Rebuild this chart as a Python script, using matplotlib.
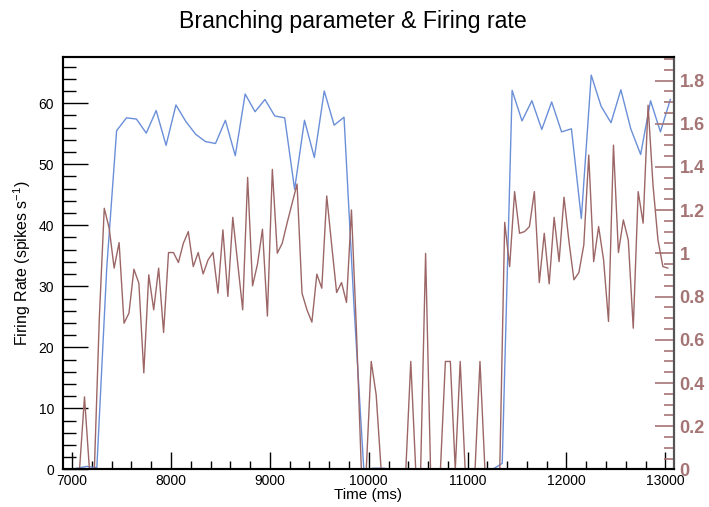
import matplotlib
matplotlib.use("Agg")
import matplotlib.pyplot as plt
from matplotlib.ticker import MultipleLocator, FuncFormatter

plt.rcParams['font.family'] = ['Liberation Sans', 'DejaVu Sans']
plt.rcParams['mathtext.default'] = 'regular'

# firing rate, 100 ms bins
rate_t = list(range(6950, 13051, 100))
rate = [0.0, 0.2, 0.5, 0.3, 33.0, 55.5, 57.6, 57.4, 55.1, 58.8,
        53.1, 59.7, 57.0, 54.9, 53.7, 53.4, 57.2, 51.4, 61.5, 58.6,
        60.6, 57.9, 57.6, 45.9, 57.2, 51.1, 62.0, 56.4, 57.7, 27.0,
        0.0, 0.2, 0.2, 0.0, 0.0, 0.0, 0.0, 0.0, 0.0, 0.0,
        0.0, 0.0, 0.0, 0.0, 1.0, 62.1, 57.1, 60.4, 55.7, 60.2,
        55.3, 55.8, 41.1, 64.6, 59.5, 56.8, 62.2, 55.8, 51.6, 60.4,
        55.3, 60.6]

# branching parameter, 50 ms bins
branch_t = list(range(6975, 13026, 50))
branch = [0.0, 0.0, 0.0, 0.336, 0.0, 0.0, 0.70, 1.209, 1.116, 0.932,
          1.050, 0.677, 0.724, 0.927, 0.862, 0.447, 0.901, 0.739, 0.932, 0.634,
          1.004, 1.004, 0.958, 1.047, 1.101, 0.939, 1.004, 0.905, 0.970, 1.004,
          0.816, 1.109, 0.801, 1.167, 0.953, 0.739, 1.352, 0.850, 0.951, 1.112,
          0.710, 1.389, 1.001, 1.047, 1.142, 1.232, 1.321, 0.816, 0.739, 0.682,
          0.904, 0.839, 1.266, 1.039, 0.819, 0.865, 0.773, 1.201, 0.650, 0.0,
          0.0, 0.5, 0.346, 0.0, 0.0, 0.0, 0.0, 0.0, 0.0, 0.5,
          0.0, 0.0, 1.0, 0.0, 0.0, 0.0, 0.5, 0.5, 0.0, 0.5,
          0.0, 0.0, 0.0, 0.5, 0.0, 0.0, 0.0, 0.0, 1.144, 0.939,
          1.286, 1.093, 1.101, 1.124, 1.286, 0.865, 1.093, 0.859, 1.167, 0.962,
          1.260, 1.055, 0.878, 0.911, 1.039, 1.455, 0.962, 1.124, 0.970, 0.685,
          1.501, 1.004, 1.155, 1.062, 0.654, 1.286, 1.140, 1.686, 1.316, 1.062,
          0.939, 0.932]

blue = '#6a8fd8'
brown = '#9c6666'
axis_brown = '#a57474'

fig = plt.figure(figsize=(7.09, 5.07), dpi=100)
ax = fig.add_axes([0.0882, 0.074, 0.9506 - 0.0882, 0.888 - 0.074])
ax2 = ax.twinx()

ax.plot(rate_t, rate, color=blue, lw=1.0)
ax2.plot(branch_t, branch, color=brown, lw=1.0)

ax.set_xlim(6903, 13087)
ax.set_ylim(0, 67.6)
ax2.set_ylim(0, 1.91)

# left / bottom axes, ticks inside like ROOT
ax.xaxis.set_major_locator(MultipleLocator(1000))
ax.xaxis.set_minor_locator(MultipleLocator(200))
ax.yaxis.set_major_locator(MultipleLocator(10))
ax.yaxis.set_minor_locator(MultipleLocator(2))
ax.tick_params(axis='x', which='major', direction='in', length=12, width=1, labelsize=10, pad=3)
ax.tick_params(axis='x', which='minor', direction='in', length=6, width=1)
ax.tick_params(axis='y', which='major', direction='in', length=18, width=1, labelsize=10, pad=6)
ax.tick_params(axis='y', which='minor', direction='in', length=9, width=1)
ax.tick_params(top=False, right=False, which='both')

for side in ['left', 'top', 'bottom', 'right']:
    ax.spines[side].set_linewidth(1.5)
    ax2.spines[side].set_linewidth(1.5)
ax.spines['top'].set_color('#444444')
ax.spines['left'].set_color('#333333')
ax.spines['bottom'].set_color('#222222')
ax2.spines['right'].set_color('#555555')

# right axis for the branching parameter
ax2.yaxis.set_major_locator(MultipleLocator(0.2))
ax2.yaxis.set_minor_locator(MultipleLocator(0.05))
ax2.yaxis.set_major_formatter(FuncFormatter(lambda v, p: ('%g' % round(v, 2))))
ax2.tick_params(axis='y', which='major', direction='in', length=14, width=1.2,
                color=axis_brown, labelcolor=axis_brown, labelsize=13, pad=4)
ax2.tick_params(axis='y', which='minor', direction='in', length=7, width=1.2, color=axis_brown)
for lab in ax2.get_yticklabels():
    lab.set_fontweight('bold')

ax.set_xlabel('Time (ms)', fontsize=11, labelpad=0)
ax.set_ylabel('Firing Rate (spikes s$^{-1}$)', fontsize=11.5, labelpad=4)

fig.text(0.498, 0.958, 'Branching parameter & Firing rate', ha='center', va='center', fontsize=16.7)

fig.savefig('out.png', dpi=100)
